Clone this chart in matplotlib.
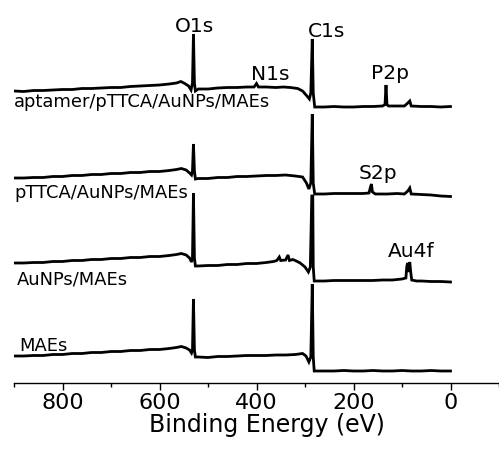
import matplotlib
matplotlib.use("Agg")
import matplotlib.pyplot as plt

# XPS survey spectra (binding energy in eV, intensity in arbitrary units, already stacked)
ev_apt = [900, 880, 860, 840, 820, 800, 780, 760, 740, 720, 700, 680, 660, 640, 620, 600,
          580, 565, 556, 548, 540, 535, 532, 530, 528, 526, 520, 500, 480, 460, 440, 420,
          405, 400, 396, 380, 360, 345, 330, 315, 305, 296, 291, 288, 285, 283, 280, 260,
          240, 220, 200, 180, 160, 140, 135, 133, 131, 128, 110, 95, 88, 84, 81, 60, 40, 20, 0]
int_apt = [292, 291.5, 292.5, 292.5, 293, 293.5, 293.5, 294.5, 294.5, 295, 295.5, 295.5, 296.5, 297, 297.5, 298,
           299, 300, 301.5, 299.5, 297, 293, 300, 349, 300, 292, 294, 294, 295, 295.5, 295.5, 296,
           296, 299.5, 296, 296, 295.5, 296, 295.5, 294.5, 292, 287, 284, 290, 344, 290, 276, 276,
           276.5, 276, 276, 276.5, 276.5, 277, 278.5, 298, 278.5, 277, 277, 277, 280, 282, 277, 276.5, 276.5, 276, 276.5]

ev_pttca = [900, 880, 860, 840, 820, 800, 780, 760, 740, 720, 700, 680, 660, 640, 620, 600,
            580, 565, 555, 545, 538, 534, 532, 530, 528, 526, 520, 500, 480, 460, 440, 420,
            400, 380, 360, 340, 320, 305, 297, 292, 288, 285, 283, 280, 260, 240, 220, 200,
            180, 168, 165, 163, 161, 155, 130, 110, 95, 88, 84, 81, 60, 40, 20, 0]
int_pttca = [205, 205, 205.5, 205.5, 206.5, 206.5, 207.5, 207.5, 208.5, 208.5, 209.5, 209.5, 210.5, 210.5, 211.5, 211.5,
             212.5, 213.5, 214.5, 213, 210, 208, 212, 239, 212, 204, 204.5, 204.5, 205.5, 205.5, 206.5, 206.5,
             207, 207.5, 207.5, 208, 207, 206, 200, 194, 200, 269, 200, 189, 189, 189.5, 189.5, 189.5,
             189.5, 190, 196, 199, 191, 189, 189, 189.5, 189, 192, 195, 189, 188.5, 188, 187, 186.5]

ev_aunp = [900, 880, 860, 840, 820, 800, 780, 760, 740, 720, 700, 680, 660, 640, 620, 600,
           580, 565, 555, 545, 538, 534, 532, 530, 528, 526, 520, 500, 480, 460, 440, 420,
           400, 380, 365, 358, 353, 350, 340, 335, 332, 325, 318, 310, 300, 293, 289, 286,
           284, 283, 281, 260, 240, 220, 200, 180, 160, 140, 120, 100, 92, 90, 88, 86, 84,
           82, 80, 70, 60, 40, 20, 0]
int_aunp = [120, 120, 120.5, 120.5, 121.5, 121.5, 122.5, 122.5, 123.5, 123.5, 124.5, 124.5, 125.5, 125.5, 126.5, 126.5,
            127.5, 128.5, 129.5, 128, 125, 121, 125, 190, 125, 117, 117, 117.5, 117.5, 118.5, 118.5, 119.5,
            119.5, 120.5, 121.5, 122.5, 126, 122.5, 123, 128, 122.5, 123.5, 122, 120, 116, 111, 116, 187,
            187, 116, 102, 102, 102.5, 102.5, 102.5, 102.5, 102.5, 103, 103, 104, 105, 117, 120, 111, 121,
            111, 103, 102, 102, 101.5, 101.5, 101]

ev_mae = [900, 880, 860, 840, 820, 800, 780, 760, 740, 720, 700, 680, 660, 640, 620, 600,
          580, 565, 555, 545, 538, 534, 532, 530, 528, 526, 520, 500, 480, 460, 440, 420,
          400, 380, 360, 340, 320, 305, 298, 292, 288, 285, 283, 281, 260, 240, 220, 200,
          180, 160, 140, 120, 100, 80, 60, 40, 20, 0]
int_mae = [27, 27, 27.5, 27.5, 28.5, 28.5, 29.5, 29.5, 30.5, 30.5, 31.5, 31.5, 32.5, 32.5, 33.5, 33.5,
           34.5, 35.5, 36.5, 35, 33, 30, 33, 84, 33, 26, 26, 25.5, 26.5, 26.5, 27, 27.5,
           27.5, 27.5, 28, 28, 28.5, 29.5, 27, 21, 26, 99, 26, 12, 12, 12, 12.5, 12,
           12, 12.5, 12, 12, 12.5, 12, 12, 12.5, 12, 12]

sample_names = ["aptamer/pTTCA/AuNPs/MAEs", "pTTCA/AuNPs/MAEs", "AuNPs/MAEs", "MAEs"]
sample_label_pos = [(901, 277), (899, 186), (895, 99), (889, 33)]

peak_names = ["O1s", "C1s", "N1s", "P2p", "S2p", "Au4f"]
peak_label_pos = [(528, 352), (256, 347), (371, 304), (124, 305), (150, 205), (82, 127)]

fig = plt.figure(figsize=(4.99, 4.60), dpi=100)
ax = fig.add_axes([14 / 499, 76 / 460, 485 / 499, 384 / 460])

for ev, inten in [(ev_apt, int_apt), (ev_pttca, int_pttca), (ev_aunp, int_aunp), (ev_mae, int_mae)]:
    ax.plot(ev, inten, color="black", linewidth=2.0, solid_joinstyle="miter")

for name, (x, y) in zip(sample_names, sample_label_pos):
    ax.text(x, y, name, fontsize=12.9, ha="left", va="baseline")
for name, (x, y) in zip(peak_names, peak_label_pos):
    ax.text(x, y, name, fontsize=14.5, ha="center", va="baseline")

ax.set_xlim(900, -100)
ax.set_ylim(0, 384)
ax.set_xticks([800, 600, 400, 200, 0])
ax.set_xticks([900, 700, 500, 300, 100, -100], minor=True)
ax.tick_params(axis="x", which="major", direction="out", length=5, width=1, pad=1.5, labelsize=16)
ax.tick_params(axis="x", which="minor", direction="out", length=3, width=1)
ax.set_yticks([])
for side in ["left", "top", "right"]:
    ax.spines[side].set_visible(False)
ax.spines["bottom"].set_linewidth(1)
ax.set_xlabel("Binding Energy (eV)", fontsize=17, labelpad=2)
ax.xaxis.set_label_coords((267 - 14) / 485, -0.075)
ax.patch.set_visible(False)

fig.savefig("out.png", dpi=100)
